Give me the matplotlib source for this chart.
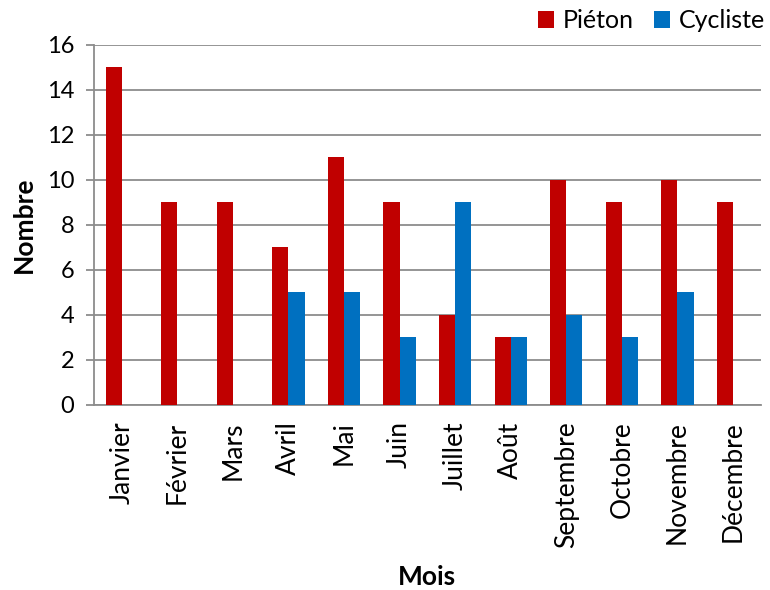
import matplotlib
matplotlib.use("Agg")
import matplotlib.pyplot as plt
import numpy as np

# monthly counts
mois = ["Janvier", "Février", "Mars", "Avril", "Mai", "Juin",
        "Juillet", "Août", "Septembre", "Octobre", "Novembre", "Décembre"]
pieton = [15, 9, 9, 7, 11, 9, 4, 3, 10, 9, 10, 9]
cycliste = [0, 0, 0, 5, 5, 3, 9, 3, 4, 3, 5, 0]

plt.rcParams["font.family"] = ["Lato", "DejaVu Sans"]

fig = plt.figure(figsize=(7.7, 5.9), dpi=100)
ax = fig.add_axes([0.122, 0.314, 0.866, 0.61])

x = np.arange(len(mois))
w = 0.29
ax.bar(x - w / 2, pieton, w, color="#C00000", label="Piéton", zorder=3)
ax.bar(x + w / 2, cycliste, w, color="#0070C0", label="Cycliste", zorder=3)

ax.set_xlim(-0.5, len(mois) - 0.5)
ax.set_ylim(0, 16)
ax.set_yticks(range(0, 17, 2))
ax.yaxis.grid(True, color="#8c8c8c", linewidth=1.3, zorder=0)
ax.set_axisbelow(True)

ax.set_xticks(x)
ax.set_xticklabels(mois, rotation=90, fontsize=19)
ax.tick_params(axis="x", length=0, pad=12)
ax.tick_params(axis="y", labelsize=17, length=6, color="#8c8c8c", width=1.3, pad=8)

for side in ["top", "right"]:
    ax.spines[side].set_visible(False)
ax.spines["left"].set_color("#8c8c8c")
ax.spines["bottom"].set_color("#8c8c8c")
ax.spines["left"].set_linewidth(1.3)
ax.spines["bottom"].set_linewidth(1.3)

ax.set_ylabel("Nombre", fontsize=19, fontweight="bold", labelpad=8)
ax.set_xlabel("Mois", fontsize=19, fontweight="bold", labelpad=12)

ax.legend(loc="lower right", bbox_to_anchor=(1.025, 1.0), ncol=2, frameon=False,
          fontsize=18, handlelength=0.65, handleheight=0.65, handletextpad=0.35,
          columnspacing=0.8, borderaxespad=0.1)

fig.savefig("out.png", dpi=100)
